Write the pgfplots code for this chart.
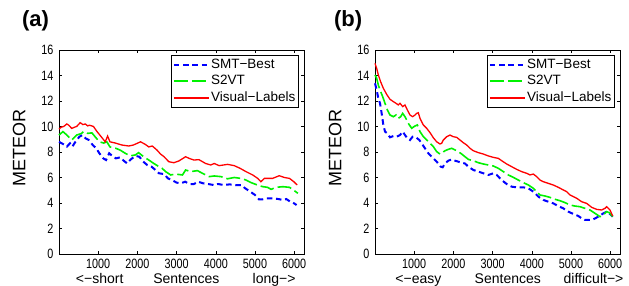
\documentclass[border=0pt]{standalone}
\usepackage{fontspec}
\setmainfont{Liberation Sans}
\newfontfamily\tickfont{Liberation Sans}[FakeStretch=0.8]
\usepackage{pgfplots}
\pgfplotsset{compat=1.18}

\definecolor{mblue}{rgb}{0,0,1}
\definecolor{mgreen}{rgb}{0,0.95,0}
\definecolor{mred}{rgb}{1,0,0}

\tikzset{
  lab/.style={font=\fontsize{14}{16}\selectfont, anchor=base, yshift=-29.7pt},
}

\pgfplotsset{
  mystyle/.style={
    scale only axis, width=245pt, height=204pt,
    clip=false,
    xmin=0, xmax=6250, ymin=0, ymax=16,
    xtick={1000,2000,3000,4000,5000,6000},
    ytick={0,2,4,6,8,10,12,14,16},
    tick align=inside, major tick length=3pt,
    axis line style={line width=1pt, black},
    tick style={line width=0.6pt, black},
    /pgf/number format/assume math mode=true,
    /pgf/number format/set thousands separator={},
    scaled x ticks=false,
    ticklabel style={font=\tickfont\fontsize{13.5}{14}\selectfont},
    xticklabel style={anchor=base, yshift=-14pt},
    yticklabel style={xshift=-2pt},
    ylabel={\fontsize{18}{20}\selectfont METEOR},
    ylabel style={at={(axis description cs:-0.163,0.518)}, anchor=center},
    title style={anchor=center, font=\bfseries\fontsize{22}{24}\selectfont},
    legend style={at={(1,1)}, anchor=north east, xshift=-5pt, yshift=-5pt,
      draw=black, line width=0.8pt, font=\fontsize{13.5}{14}\selectfont,
      inner xsep=2pt, inner ysep=1pt, row sep=0pt,
      nodes={inner sep=1.3pt, text height=10.5pt, text depth=3.5pt}},
    legend cell align=left,
    legend image code/.code={\draw[line width=1.8pt,#1] (0pt,0pt) -- (35pt,0pt);},
  },
}

\begin{document}
\begin{tikzpicture}
\useasboundingbox (0,0) rectangle (629pt,-286pt);

% ---------------- (a)
\begin{axis}[mystyle, at={(59pt,-254pt)}, anchor=south west,
  title={(a)}, title style={at={(axis description cs:-0.096,1.113)}}]
\addlegendimage{color=mblue, draw=mblue, line width=2pt, dash pattern=on 5.5pt off 3.7pt}
\addlegendentry{SMT−Best}
\addlegendimage{color=mgreen, draw=mgreen, line width=1.8pt, dash pattern=on 14pt off 4pt}
\addlegendentry{S2VT}
\addlegendimage{color=mred, draw=mred, line width=1.3pt, solid}
\addlegendentry{Visual−Labels}
\addplot[forget plot, draw=mblue, line width=2pt, dash pattern=on 5.5pt off 3.7pt] coordinates {(0,8.8)(100,8.63)(200,8.42)(280,8.68)(340,8.42)(420,8.8)(520,9.2)(600,9.33)(680,9.07)(760,8.94)(860,8.55)(950,8.29)(1030,7.9)(1130,7.5)(1200,7.37)(1280,7.9)(1360,7.69)(1450,7.5)(1560,7.58)(1650,7.32)(1740,7.1)(1830,7.42)(1950,7.69)(2050,7.63)(2150,7.24)(2250,6.98)(2360,6.85)(2460,6.59)(2550,6.33)(2680,6.27)(2780,5.93)(2880,5.8)(3000,5.6)(3100,5.54)(3220,5.67)(3330,5.49)(3440,5.49)(3550,5.67)(3680,5.54)(3800,5.49)(3950,5.41)(4060,5.49)(4200,5.41)(4350,5.46)(4500,5.41)(4650,5.41)(4750,5.15)(4880,4.89)(5000,4.63)(5100,4.29)(5200,4.29)(5300,4.37)(5450,4.37)(5600,4.31)(5700,4.24)(5800,4.31)(5900,4.1)(6000,3.97)(6060,3.84)};
\addplot[forget plot, draw=mgreen, line width=1.6pt, dash pattern=on 14pt off 4pt] coordinates {(0,9.33)(100,9.6)(200,9.33)(325,8.94)(450,9.33)(580,9.46)(620,9.6)(730,9.46)(840,9.5)(920,9.2)(1030,8.8)(1140,8.7)(1220,8.8)(1300,8.4)(1440,8.3)(1560,8.15)(1690,7.9)(1820,7.7)(1950,7.77)(2030,7.95)(2160,7.63)(2290,7.37)(2420,7.1)(2550,6.85)(2630,6.72)(2720,6.46)(2850,6.2)(2970,6.27)(3150,6.2)(3230,6.59)(3360,6.46)(3530,6.54)(3660,6.33)(3830,6.07)(3960,6.12)(4130,6.07)(4300,5.9)(4470,6.0)(4640,5.93)(4770,5.8)(4900,5.6)(5070,5.4)(5200,5.28)(5320,5.23)(5410,5.07)(5540,5.23)(5710,5.28)(5880,5.23)(5990,5.0)(6094,4.76)};
\addplot[forget plot, draw=mred, line width=1.3pt, solid] coordinates {(0,9.8)(60,9.95)(120,10.0)(200,10.2)(250,10.1)(325,9.85)(400,9.95)(450,10.0)(540,10.3)(610,10.15)(670,10.2)(730,10.05)(780,10.1)(880,10.0)(970,9.6)(1050,9.3)(1140,8.95)(1180,8.8)(1240,9.25)(1300,8.8)(1440,8.7)(1600,8.55)(1780,8.47)(1900,8.55)(2030,8.73)(2080,8.8)(2200,8.6)(2290,8.4)(2380,8.47)(2500,8.15)(2590,7.84)(2680,7.63)(2800,7.24)(2930,7.16)(3060,7.3)(3230,7.63)(3320,7.5)(3440,7.37)(3570,7.4)(3740,7.1)(3870,6.98)(3960,7.1)(4085,6.93)(4300,7.03)(4470,6.93)(4620,6.72)(4770,6.46)(4940,6.2)(5070,5.93)(5150,5.67)(5240,5.93)(5450,5.93)(5620,6.14)(5750,6.0)(5880,5.93)(5990,5.67)(6077,5.41)};
\node[lab] at (rel axis cs:0.166,0) {<−short};
\node[lab] at (rel axis cs:0.52,0) {Sentences};
\node[lab] at (rel axis cs:0.878,0) {long−>};
\end{axis}

% ---------------- (b)
\begin{axis}[mystyle, at={(375pt,-254pt)}, anchor=south west,
  title={(b)}, title style={at={(axis description cs:-0.110,1.113)}}]
\addlegendimage{color=mblue, draw=mblue, line width=2pt, dash pattern=on 5.5pt off 3.7pt}
\addlegendentry{SMT−Best}
\addlegendimage{color=mgreen, draw=mgreen, line width=1.8pt, dash pattern=on 14pt off 4pt}
\addlegendentry{S2VT}
\addlegendimage{color=mred, draw=mred, line width=1.3pt, solid}
\addlegendentry{Visual−Labels}
\addplot[forget plot, draw=mblue, line width=2pt, dash pattern=on 5.5pt off 3.7pt] coordinates {(0,13.39)(43,12.86)(85,12.2)(128,11.82)(170,11.03)(213,10.12)(255,9.6)(315,9.46)(383,9.15)(468,9.25)(553,9.2)(638,9.33)(706,9.6)(765,9.33)(825,9.07)(893,8.94)(960,9.2)(1045,9.15)(1131,8.94)(1190,8.68)(1275,8.29)(1361,7.9)(1446,7.63)(1531,7.37)(1616,7.1)(1675,6.85)(1726,6.8)(1786,7.1)(1871,7.32)(1956,7.42)(2041,7.32)(2126,7.24)(2211,7.16)(2296,7.1)(2381,6.85)(2508,6.59)(2636,6.46)(2764,6.33)(2891,6.2)(3019,6.33)(3104,6.2)(3231,5.8)(3359,5.49)(3486,5.28)(3614,5.23)(3784,5.23)(3912,5.15)(4039,4.89)(4167,4.5)(4294,4.24)(4422,4.1)(4549,3.97)(4677,3.76)(4804,3.58)(4932,3.32)(5060,3.14)(5187,2.98)(5272,2.8)(5357,2.67)(5442,2.67)(5570,2.72)(5697,2.93)(5825,3.19)(5910,3.32)(5995,3.14)(6063,2.93)};
\addplot[forget plot, draw=mgreen, line width=1.6pt, dash pattern=on 14pt off 4pt] coordinates {(0,14.04)(43,13.78)(85,13.25)(128,12.86)(196,12.34)(255,11.82)(315,11.3)(383,10.9)(468,10.77)(536,10.9)(595,10.64)(655,10.77)(706,11.03)(765,10.77)(850,10.25)(935,9.86)(1020,10.04)(1080,10.12)(1148,9.6)(1233,9.2)(1318,8.94)(1403,8.68)(1488,8.42)(1573,8.03)(1658,7.84)(1700,7.9)(1786,8.1)(1871,8.21)(1956,8.29)(2041,8.16)(2126,8.03)(2211,7.84)(2296,7.63)(2381,7.42)(2508,7.32)(2636,7.16)(2764,7.06)(2891,6.98)(3019,6.9)(3146,6.72)(3274,6.46)(3401,6.2)(3529,6.01)(3656,5.8)(3784,5.6)(3912,5.41)(4039,5.15)(4124,4.89)(4209,4.63)(4337,4.55)(4464,4.44)(4592,4.29)(4719,4.18)(4847,4.03)(4974,3.84)(5102,3.76)(5230,3.71)(5357,3.58)(5485,3.45)(5612,3.19)(5740,2.93)(5825,3.06)(5910,3.32)(5978,3.24)(6063,2.93)};
\addplot[forget plot, draw=mred, line width=1.3pt, solid] coordinates {(0,14.95)(43,14.56)(85,14.04)(145,13.5)(212,13.0)(298,12.52)(383,12.13)(468,11.95)(536,11.82)(595,11.69)(638,11.82)(706,11.56)(765,11.69)(825,11.3)(893,10.9)(960,10.77)(1020,10.9)(1063,11.03)(1105,11.08)(1148,10.64)(1233,10.12)(1318,9.86)(1403,9.52)(1488,9.12)(1573,8.8)(1658,8.63)(1700,8.68)(1743,8.94)(1828,9.2)(1913,9.33)(1998,9.2)(2083,9.15)(2168,8.94)(2253,8.73)(2338,8.55)(2423,8.29)(2508,8.1)(2636,7.95)(2764,7.84)(2891,7.69)(3019,7.58)(3146,7.5)(3231,7.32)(3359,7.06)(3486,6.85)(3614,6.64)(3741,6.46)(3869,6.33)(3954,6.2)(4039,6.27)(4124,6.07)(4209,5.8)(4294,5.67)(4422,5.54)(4549,5.41)(4677,5.23)(4804,5.02)(4889,4.89)(4974,4.63)(5060,4.5)(5145,4.37)(5272,4.1)(5400,3.97)(5527,3.66)(5655,3.5)(5782,3.45)(5867,3.58)(5910,3.71)(5995,3.45)(6063,2.98)};
\node[lab] at (rel axis cs:0.177,0) {<−easy};
\node[lab] at (rel axis cs:0.542,0) {Sentences};
\node[lab] at (rel axis cs:0.892,0) {difficult−>};
\end{axis}
\end{tikzpicture}
\end{document}
